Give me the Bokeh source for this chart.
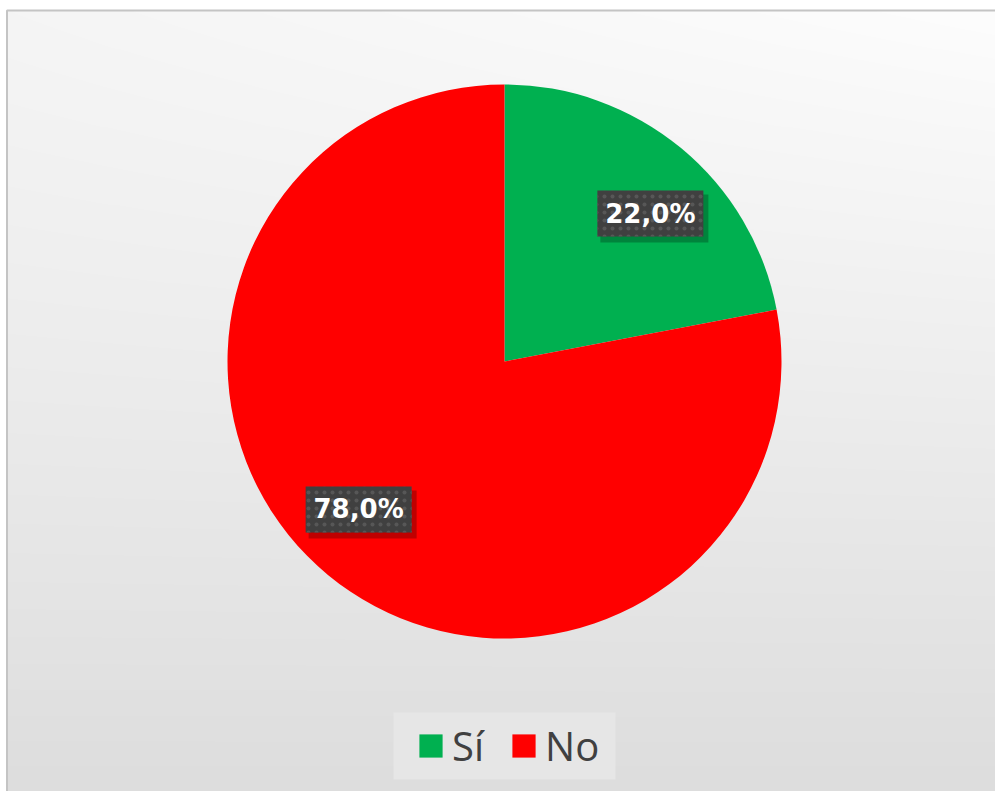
import numpy as np
from math import pi, cos, sin, radians
from bokeh.plotting import figure
from bokeh.models import ColumnDataSource, Legend, LegendItem, BoxAnnotation
from bokeh.core.properties import value
from bokeh.embed import file_html
from bokeh.resources import INLINE

# ---- data ----
categories = ["Sí", "No"]
values = [22.0, 78.0]
colors = ["#00B050", "#FF0000"]

W, H = 995, 791
CX, CY, R = 504, 430, 277

# angles: start at top, go clockwise
total = sum(values)
starts, ends, mids = [], [], []
a = pi / 2
for v in values:
    sweep = 2 * pi * v / total
    ends.append(a)
    starts.append(a - sweep)
    mids.append(a - sweep / 2)
    a -= sweep

labels = [f"{v:.1f}".replace(".", ",") + "%" for v in values]
lr = 0.75 * R
lx = [CX + lr * cos(m - radians(5)) for m in mids]
ly = [CY + lr * sin(m - radians(5)) for m in mids]

p = figure(width=W, height=H, x_range=(0, W), y_range=(0, H),
           output_backend="svg", toolbar_location=None, min_border=0)
p.axis.visible = False
p.grid.visible = False
p.outline_line_color = None

# background gradient
yy, xx = np.mgrid[0:H, 0:W]
ty = 1 - yy / (H - 1)          # 0 at top, 1 at bottom (row 0 = bottom)
tx = xx / (W - 1)
g = 253 - 32 * ty - 8 * (1 - tx) * (1 - ty) ** 2
g = np.clip(g, 0, 255).astype(np.uint32)
img = (255 << 24) | (g << 16) | (g << 8) | g
p.image_rgba(image=[img.astype(np.uint32)], x=6, y=0, dw=W - 6, dh=H - 10)

# chart-area border (only top and left edges visible)
p.add_layout(BoxAnnotation(left=6.5, right=W + 20, bottom=-20, top=H - 10,
                           fill_alpha=0.0, line_color="#c4c4c4", line_alpha=1.0, line_width=2))

renderers = []
for i in range(len(values)):
    r = p.wedge(x=CX, y=CY, radius=R, start_angle=starts[i], end_angle=ends[i],
                fill_color=colors[i], line_color=None)
    renderers.append(r)

src = ColumnDataSource(dict(x=lx, y=ly, sx=[x + 4 for x in lx], sy=[y - 5 for y in ly], t=labels))
p.rect(x="sx", y="sy", width=108, height=48, width_units="screen", height_units="screen",
       source=src, fill_color="black", fill_alpha=0.25, line_color=None)
p.rect(x="x", y="y", width=106, height=46, width_units="screen", height_units="screen",
       source=src, fill_color="#404040", line_color=None,
       hatch_pattern="dot", hatch_color="#575757", hatch_scale=8, hatch_weight=1.5)
p.text(x="x", y="y", text="t", source=src, text_align="center", text_baseline="middle",
       text_color="white", text_font=value("DejaVu Sans"), text_font_style="bold",
       text_font_size="26px")

# legend background panel
p.add_layout(BoxAnnotation(left=393, right=615, bottom=12, top=79,
                           fill_color="#e6e6e6", fill_alpha=1.0, line_color=None))

legend = Legend(items=[LegendItem(label=categories[i], renderers=[renderers[i]]) for i in range(len(values))],
                orientation="horizontal", location=(416, 18),
                glyph_width=29, glyph_height=29, label_standoff=7, spacing=25,
                padding=0, margin=0, label_height=29, label_text_font_size="40px",
                label_text_color="#404040", label_text_font="Open Sans",
                label_text_baseline="middle",
                background_fill_alpha=0.0,
                border_line_color=None)
p.add_layout(legend, "center")

open("out.html", "w").write(file_html(p, INLINE))
